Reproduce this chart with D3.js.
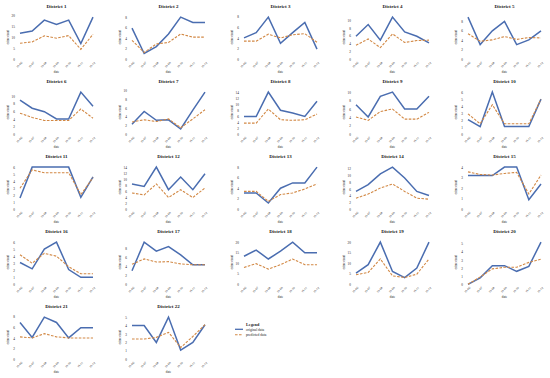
<!DOCTYPE html>
<html>
<head>
<meta charset="utf-8">
<script src="https://cdn.jsdelivr.net/npm/d3@7"></script>
<style>
  body { margin: 0; background: #fff; }
  svg { display: block; }
  text { font-family: "Liberation Serif", "DejaVu Serif", serif; fill: #222; }
</style>
</head>
<body>
<svg id="svg" width="550" height="378"></svg>
<script>
// tick labels on the x axis (7 time steps)
var dates = ["19-06", "19-07", "19-08", "19-09", "19-10", "19-11", "19-12"];

var districts = ["District 1", "District 2", "District 3", "District 4", "District 5",
    "District 6", "District 7", "District 8", "District 9", "District 10",
    "District 11", "District 12", "District 13", "District 14", "District 15",
    "District 16", "District 17", "District 18", "District 19", "District 20",
    "District 21", "District 22"];

var original = [
    [12, 13, 18, 16, 18, 7.2, 19.4],
    [5.9, 1.1, 2.4, 4.8, 8, 7, 7],
    [4, 5, 7.9, 3, 5, 6.9, 1.9],
    [5.9, 8.9, 4.9, 10.8, 7, 5.9, 4.2],
    [8.9, 3.1, 6, 8, 3.1, 4.1, 6],
    [8.9, 6.8, 5.9, 4, 4, 11, 7.3],
    [2.3, 5.2, 3.2, 3.3, 1.2, 5.5, 9.6],
    [6, 6, 14.2, 8.1, 7.2, 6, 11.1],
    [7, 4.1, 9, 10, 6, 6, 9],
    [2.1, 1.1, 6, 1.1, 1.1, 1.1, 5],
    [1.6, 6, 6, 6, 6, 1.7, 4.6],
    [8.4, 7.6, 14, 6.5, 10.7, 6.5, 11.8],
    [3.1, 3.1, 1.2, 4, 5, 5, 8],
    [5.3, 7.3, 10.5, 12.5, 9.3, 5.3, 4.1],
    [3.2, 3.2, 3.2, 4, 4, 0.9, 2.4],
    [3.1, 2.2, 5, 6, 2.1, 1, 1],
    [3, 9.3, 7.3, 8.3, 6.5, 4.3, 4.3],
    [13.3, 16.2, 12, 15.7, 20, 14.9, 14.9],
    [5.3, 9.3, 20, 6.1, 3.2, 7.7, 20],
    [0, 0.8, 2.3, 2.3, 1.6, 2.2, 5.2],
    [6.9, 4.1, 7.9, 6.9, 4, 5.9, 5.9],
    [4, 4, 2, 5, 1.1, 2, 4.1]
];

var predicted = [
    [7.4, 8, 10.8, 9.7, 10.9, 4.6, 11.5],
    [3.6, 1.3, 2.9, 3.2, 4.8, 4.2, 4.2],
    [3.4, 3.4, 4.7, 4, 4.6, 4.8, 3.2],
    [3.6, 5.2, 3, 6.5, 4.3, 4.8, 4.9],
    [5.4, 3.8, 4.1, 4.8, 4.2, 4.6, 4.5],
    [5.5, 4.4, 3.6, 3.6, 3.6, 6.6, 4.2],
    [2.8, 3.3, 2.9, 3.5, 1.5, 3.5, 5.6],
    [3.75, 3.75, 8.5, 4.9, 4.7, 4.9, 6.8],
    [4.1, 3.3, 5.4, 6, 3.6, 3.6, 5.2],
    [2.9, 1.5, 4.2, 1.5, 1.5, 1.5, 5],
    [3, 5.6, 5.2, 5.2, 5.2, 2.1, 4.5],
    [5.4, 4.8, 8.4, 3.9, 6.5, 3.9, 7.1],
    [3.4, 3.4, 1.5, 2.8, 3.1, 3.85, 4.8],
    [3.3, 4.5, 6.3, 7.5, 5.3, 3.3, 3],
    [3.55, 3.3, 3.25, 3.4, 3.5, 1.45, 3.25],
    [4.2, 3, 4.4, 4, 2.5, 1.5, 1.5],
    [4.4, 5.6, 4.9, 5, 4.5, 4.3, 4.3],
    [8, 9.8, 7.2, 9.3, 12, 9.3, 9.3],
    [4.5, 5.6, 12, 4, 3.2, 4.8, 12],
    [0, 0.9, 1.9, 2.1, 2.1, 2.7, 3.1],
    [4.2, 4, 4.8, 4.2, 4, 4, 4],
    [2.4, 2.4, 2.6, 3.2, 1.4, 2.7, 4.1]
];

var legendLabels = ["original data", "predicted data"];

var blue = "#4a6db0", orange = "#d28844";

var svg = d3.select("#svg");

var colPitch = 112, rowPitch = 75;

districts.forEach(function (name, i) {
    var col = i % 5, row = Math.floor(i / 5);
    var g = svg.append("g")
        .attr("transform", "translate(" + (col * colPitch) + "," + (row * rowPitch) + ")");

    var x = d3.scalePoint().domain(dates).range([20, 93]);
    var maxV = d3.max(original[i].concat(predicted[i]));
    var y = d3.scaleLinear().domain([0, maxV * 1.05]).range([59.3, 15]);

    var ticks = y.ticks(5);
    var step = ticks[1] - ticks[0];
    var fmt = step % 1 === 0 ? d3.format("d") : d3.format(".1f");

    // y axis, labels only
    var ya = g.append("g").attr("transform", "translate(16,0)")
        .call(d3.axisLeft(y).tickValues(ticks).tickFormat(fmt).tickSize(0).tickPadding(1));
    ya.select(".domain").remove();
    ya.selectAll("text").attr("font-size", 3.4).attr("fill", "#333").style("font-family", "Liberation Serif");

    // x axis, rotated labels
    var xa = g.append("g").attr("transform", "translate(0,61)")
        .call(d3.axisBottom(x).tickSize(0).tickPadding(1));
    xa.select(".domain").remove();
    xa.selectAll("text")
        .attr("font-size", 3)
        .attr("fill", "#333")
        .style("font-family", "Liberation Serif")
        .attr("text-anchor", "end")
        .attr("dy", "0.6em")
        .attr("transform", "rotate(-45)");

    g.append("text").attr("x", 56.5).attr("y", 7.5)
        .attr("text-anchor", "middle").attr("font-size", 5).attr("font-weight", "bold")
        .text(name);

    g.append("text").attr("x", 56.5).attr("y", 72.5)
        .attr("text-anchor", "middle").attr("font-size", 3.2)
        .text("date");

    g.append("text")
        .attr("transform", "translate(9," + 37 + ") rotate(-90)")
        .attr("text-anchor", "middle").attr("font-size", 3)
        .text("crime count");

    var line = d3.line()
        .x(function (d, j) { return x(dates[j]); })
        .y(function (d) { return y(d); });

    g.append("path").datum(original[i])
        .attr("d", line).attr("fill", "none")
        .attr("stroke", blue).attr("stroke-width", 1.5);

    g.append("path").datum(predicted[i])
        .attr("d", line).attr("fill", "none")
        .attr("stroke", orange).attr("stroke-width", 1.1)
        .attr("stroke-dasharray", "2.6,1.4");
});

// legend in the free slot of the last row
var lg = svg.append("g").attr("transform", "translate(233,320)");
lg.append("text").attr("x", 13).attr("y", 6).attr("font-size", 4.2).attr("font-weight", "bold").text("Legend");
legendLabels.forEach(function (lab, k) {
    var yy = 10.5 + k * 5.5;
    lg.append("line").attr("x1", 2).attr("x2", 10).attr("y1", yy - 1.2).attr("y2", yy - 1.2)
        .attr("stroke", k === 0 ? blue : orange)
        .attr("stroke-width", k === 0 ? 1.3 : 1.1)
        .attr("stroke-dasharray", k === 0 ? null : "2.6,1.4");
    lg.append("text").attr("x", 13).attr("y", yy).attr("font-size", 3.6).text(lab);
});
</script>
</body>
</html>
